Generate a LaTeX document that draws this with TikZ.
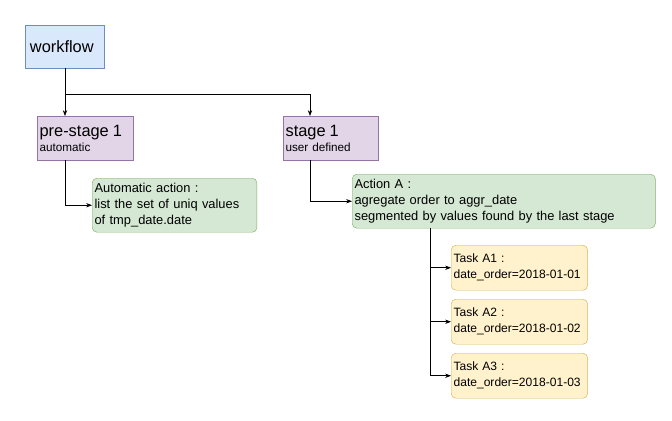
\documentclass[tikz,border=0pt]{standalone}
\usepackage{fontspec}
\setmainfont{Liberation Sans}
\usetikzlibrary{arrows.meta,positioning}
\definecolor{wfFill}{HTML}{DAE8FC}\definecolor{wfLine}{HTML}{6C8EBF}
\definecolor{stFill}{HTML}{E1D5E7}\definecolor{stLine}{HTML}{9673A6}
\definecolor{acFill}{HTML}{D5E8D4}\definecolor{acLine}{HTML}{82B366}
\definecolor{tkFill}{HTML}{FFF2CC}\definecolor{tkLine}{HTML}{D6B656}
\tikzset{
  box/.style={draw, anchor=north west, align=left, inner sep=2pt, font=\fontsize{11}{13.6}\selectfont},
  stage/.style={box, fill=stFill, draw=stLine, minimum height=1.32cm, text width=2.75cm, font=\fontsize{10}{13}\selectfont},
  action/.style={box, fill=acFill, draw=acLine, rounded corners=4pt, minimum height=1.62cm},
  task/.style={box, fill=tkFill, draw=tkLine, rounded corners=4pt, minimum height=1.35cm, text width=3.95cm, font=\fontsize{10.3}{13.6}\selectfont},
  arr/.style={-{Stealth[length=5pt]}, line width=0.6pt}
}
\begin{document}
\begin{tikzpicture}[x=0.03cm, y=-0.03cm]
  \useasboundingbox (0,0) rectangle (672,421);
  \node (workflow) [box, fill=wfFill, draw=wfLine, minimum width=2.34cm, minimum height=1.29cm, text width=2.1cm, inner sep=4pt, font=\fontsize{14}{16}\selectfont] at (25,25) {workflow};
  \node (pre) [stage] at (37,116) {{\fontsize{14}{16}\selectfont pre-stage 1}\\automatic};
  \node (stage) [stage, text width=2.72cm] at (283,116) {{\fontsize{14}{16}\selectfont stage 1}\\user defined};
  \node (auto) [action, text width=4.8cm] at (92,178) {Automatic action :\\list the set of uniq values\\of tmp\_date.date};
  \node (actA) [action, text width=8.95cm] at (352,174) {Action A :\\agregate order to aggr\_date\\segmented by values found by the last stage};
  \node (taskA1) [task] at (451,245) {Task A1 :\\date\_order=2018-01-01};
  \node (taskA2) [task] at (451,299) {Task A2 :\\date\_order=2018-01-02};
  \node (taskA3) [task] at (451,353) {Task A3 :\\date\_order=2018-01-03};

  \coordinate (split) at (65,94);
  \draw[line width=0.6pt] (workflow.south -| split) -- (split);
  \draw[arr] (split) -- (pre.north -| split);
  \draw[arr] (split) -| (310,116);
  \draw[arr] (65,160) |- (auto.west);
  \draw[arr] (310,160) |- (actA.west);
  \foreach \t in {taskA1,taskA2,taskA3}
    \draw[arr] (430,228) |- (\t.west);
\end{tikzpicture}
\end{document}
